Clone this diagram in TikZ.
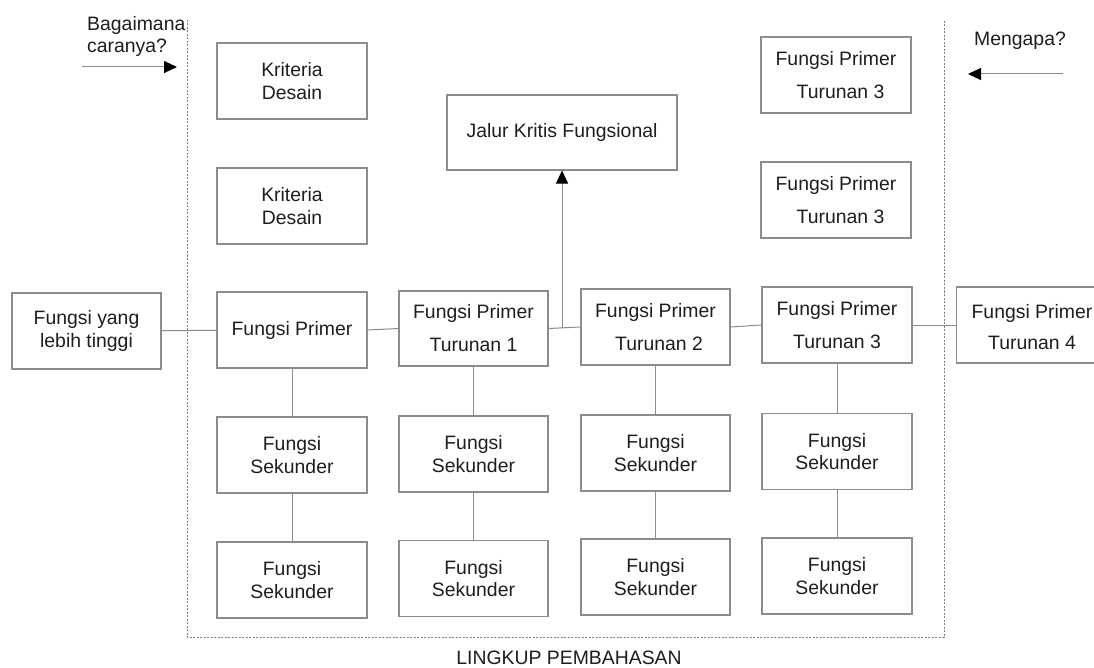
\documentclass[tikz,border=0pt]{standalone}
\usepackage{fontspec}
\setmainfont{Liberation Sans}
\usetikzlibrary{arrows.meta}
\definecolor{boxgray}{HTML}{8C8C8C}
\definecolor{txt}{HTML}{1E1E1E}
\tikzset{
  box/.style={draw=boxgray, line width=1.1pt, minimum width=150pt, minimum height=76pt,
    inner sep=0pt, align=center, text=txt, font=\fontsize{19.4}{22.5}\selectfont},
  boxw/.style={box, font=\fontsize{19.4}{33}\selectfont},
  lbl/.style={inner sep=0pt, text=txt, font=\fontsize{19.4}{22.5}\selectfont},
  conn/.style={draw=boxgray, line width=1pt},
  arr/.style={conn, -{Triangle[length=13pt,width=12pt,color=black]}},
  bnd/.style={draw=gray, line width=0.7pt, dash pattern=on 2pt off 1.5pt}
}
\begin{document}
\begin{tikzpicture}[x=1pt,y=-1pt]
\useasboundingbox (0,0) rectangle (1094,668);
\clip (0,0) rectangle (1094,668);
\fill[white] (0,0) rectangle (1094,668);

% scope boundary
\coordinate (dtl) at (187,20);
\coordinate (dbl) at (187,637);
\coordinate (dbr) at (944,637);
\coordinate (dtr) at (944,20);
\draw[bnd] (dtl) -- (dbl) -- (dbr) -- (dtr);

% labels
\node[lbl, align=left, anchor=north west] (how) at (87,16) {Bagaimana\\caranya?};
\node[lbl] (why) at (1020,41) {Mengapa?};
\node[lbl] (scope) at (569,658) {LINGKUP PEMBAHASAN};

\coordinate (howA) at (82,67);
\coordinate (howB) at (177,67);
\draw[arr] (howA) -- (howB);
\coordinate (whyA) at (1063,74);
\coordinate (whyB) at (968,74);
\draw[arr] (whyA) -- (whyB);

% top boxes
\node[box] (kd1) at (292,81) {Kriteria\\Desain};
\node[box] (kd2) at (292,206) {Kriteria\\Desain};
\node[box, minimum width=230pt, minimum height=75pt] (jalur) at (562,132.5) {Jalur Kritis Fungsional};
\node[boxw] (t3a) at (836,75) {Fungsi Primer\\\hspace*{9pt}Turunan 3};
\node[boxw] (t3b) at (836,200) {Fungsi Primer\\\hspace*{9pt}Turunan 3};

% primary row
\node[box, minimum width=149pt] (fyl) at (86.5,331) {Fungsi yang\\lebih tinggi};
\node[box] (fp) at (292,330) {Fungsi Primer};
\node[boxw, minimum width=149pt, minimum height=75pt] (fpt1) at (473.5,328.5) {Fungsi Primer\\Turunan 1};
\node[boxw, minimum width=149pt] (fpt2) at (655.5,327) {Fungsi Primer\\\hspace*{7pt}Turunan 2};
\node[boxw] (fpt3) at (837,325) {Fungsi Primer\\Turunan 3};
\node[box, minimum width=160pt, anchor=west] (fpt4) at (956,325) {};
\node[lbl, align=center, font=\fontsize{19.4}{31}\selectfont] (fpt4t) at (1032,327) {Fungsi Primer\\Turunan 4};

% secondary rows
\node[box] (s1a) at (292,455) {Fungsi\\Sekunder};
\node[box] (s1b) at (292,580) {Fungsi\\Sekunder};
\node[box, minimum width=149pt] (s2a) at (473.5,454) {Fungsi\\Sekunder};
\node[box, minimum width=149pt] (s2b) at (473.5,578.5) {Fungsi\\Sekunder};
\node[box, minimum width=149pt] (s3a) at (655.5,453) {Fungsi\\Sekunder};
\node[box, minimum width=149pt] (s3b) at (655.5,577) {Fungsi\\Sekunder};
\node[box] (s4a) at (837,451.5) {Fungsi\\Sekunder};
\node[box] (s4b) at (837,576) {Fungsi\\Sekunder};

% horizontal chain
\draw[conn] (fyl) -- (fp);
\draw[conn] (fp.east) -- (fpt1.west);
\draw[conn] (fpt1.east) -- (fpt2.west);
\draw[conn] (fpt2.east) -- (fpt3.west);
\draw[conn] (fpt3.east) -- (fpt4.west);

% critical path arrow
\coordinate (jk) at (562,328);
\draw[arr] (jk) -- (jalur.south);

% vertical links
\draw[conn] (fp) -- (s1a);
\draw[conn] (s1a) -- (s1b);
\draw[conn] (fpt1) -- (s2a);
\draw[conn] (s2a) -- (s2b);
\draw[conn] (fpt2) -- (s3a);
\draw[conn] (s3a) -- (s3b);
\draw[conn] (fpt3) -- (s4a);
\draw[conn] (s4a) -- (s4b);
\end{tikzpicture}
\end{document}
